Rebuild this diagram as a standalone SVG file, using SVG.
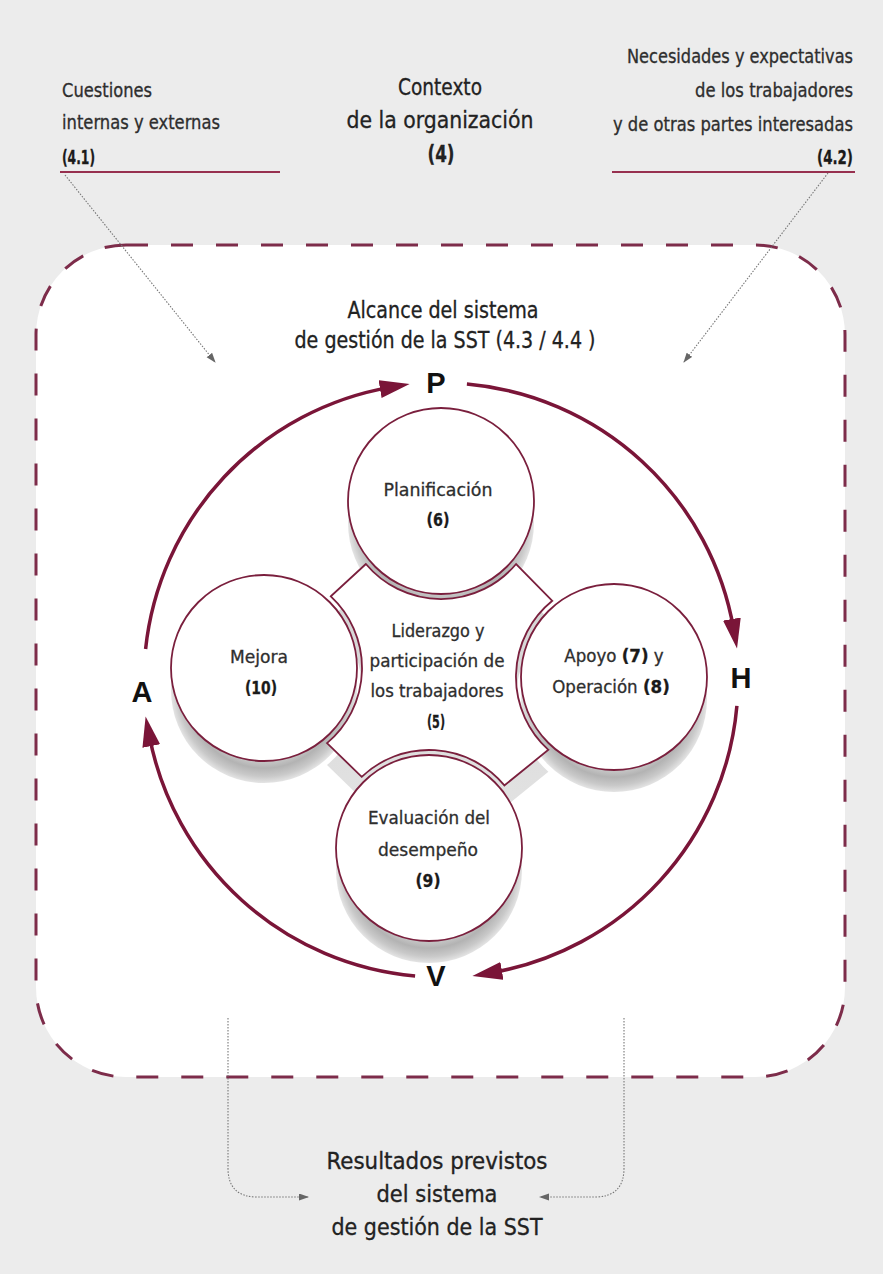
<svg xmlns="http://www.w3.org/2000/svg" width="883" height="1274" viewBox="0 0 883 1274">
  <style>
    .t { font-family: "Liberation Sans Narrow", "DejaVu Sans Condensed", "Liberation Sans", sans-serif; fill: #2e2e2e; stroke: #2e2e2e; stroke-width: 0.3; }
    .b { font-weight: bold; fill: #1a1a1a; stroke: #1a1a1a; }
    .lbl { font-size: 19px; }
    .ttl { font-size: 23px; fill: #222; stroke: #222; }
    .in { font-size: 18.5px; }
    .pdca { font-family: "Liberation Sans", Arial, sans-serif; font-weight: bold; font-size: 29px; fill: #111; text-anchor: middle; }
    .cyc { fill: none; stroke: #7a1538; stroke-width: 3.5; marker-end: url(#head); }
    .dot { fill: none; stroke: #777; stroke-width: 1.1; stroke-dasharray: 1.5 1.5; marker-end: url(#gray); }
    .face { fill: #fff; stroke: #7a1f3d; stroke-width: 1.8; }
    .rule { stroke: #97304f; stroke-width: 2; }
  </style>
  <defs>
    <marker id="head" markerUnits="userSpaceOnUse" markerWidth="32" markerHeight="20" refX="10" refY="9" orient="auto">
      <path d="M0,0 L30,9 L0,18 Z" fill="#7a1538"/>
    </marker>
    <marker id="gray" markerUnits="userSpaceOnUse" markerWidth="12" markerHeight="8" refX="9" refY="3.5" orient="auto">
      <path d="M0,0 L10,3.5 L0,7 Z" fill="#666"/>
    </marker>
    <radialGradient id="side" cx="0.5" cy="0.5" r="0.5">
      <stop offset="0" stop-color="#d6d6d6"/>
      <stop offset="0.76" stop-color="#c9c9c9"/>
      <stop offset="0.84" stop-color="#b3b3b3"/>
      <stop offset="0.93" stop-color="#c9c9c9"/>
      <stop offset="1" stop-color="#e4e4e4"/>
    </radialGradient>
    <linearGradient id="mid" x1="0" y1="0" x2="0" y2="1">
      <stop offset="0" stop-color="#d4d4d4"/>
      <stop offset="1" stop-color="#e2e2e2"/>
    </linearGradient>
  </defs>

  <!-- page and scope panel -->
  <rect x="0" y="0" width="883" height="1274" fill="#ececec"/>
  <rect x="36" y="245" width="809" height="832" rx="90" ry="90" fill="#fff" stroke="#7d2c4a" stroke-width="3" stroke-dasharray="22 23"/>

  <!-- context header -->
  <g id="cuestiones">
    <text class="t lbl" x="62" y="97" textLength="90" lengthAdjust="spacingAndGlyphs">Cuestiones</text>
    <text class="t lbl" x="62" y="129" textLength="158" lengthAdjust="spacingAndGlyphs">internas y externas</text>
    <text class="t lbl b" x="62" y="164" textLength="33" lengthAdjust="spacingAndGlyphs">(4.1)</text>
    <line class="rule" x1="60" y1="172" x2="280" y2="172"/>
  </g>
  <g id="contexto">
    <text class="t ttl" x="440" y="95" text-anchor="middle" textLength="84" lengthAdjust="spacingAndGlyphs">Contexto</text>
    <text class="t ttl" x="440" y="128" text-anchor="middle" textLength="187" lengthAdjust="spacingAndGlyphs">de la organización</text>
    <text class="t ttl b" x="441" y="162" text-anchor="middle" textLength="27" lengthAdjust="spacingAndGlyphs">(4)</text>
  </g>
  <g id="necesidades">
    <text class="t lbl" x="853" y="63" text-anchor="end" textLength="226" lengthAdjust="spacingAndGlyphs">Necesidades y expectativas</text>
    <text class="t lbl" x="853" y="97" text-anchor="end" textLength="158" lengthAdjust="spacingAndGlyphs">de los trabajadores</text>
    <text class="t lbl" x="853" y="131" text-anchor="end" textLength="240" lengthAdjust="spacingAndGlyphs">y de otras partes interesadas</text>
    <text class="t lbl b" x="853" y="164" text-anchor="end" textLength="36" lengthAdjust="spacingAndGlyphs">(4.2)</text>
    <line class="rule" x1="612" y1="172" x2="855" y2="172"/>
  </g>

  <g id="alcance">
    <text class="t ttl" x="443" y="318" text-anchor="middle" textLength="191" lengthAdjust="spacingAndGlyphs">Alcance del sistema</text>
    <text class="t ttl" x="445" y="348" text-anchor="middle" textLength="301" lengthAdjust="spacingAndGlyphs">de gestión de la SST (4.3 / 4.4 )</text>
  </g>

  <!-- extruded sides of the flower -->
  <g id="sides" transform="translate(0,22)">
    <path d="M365.9,564 L330.8,596.3 A98,98 0 0 1 327,743.1 L361.7,776.8 A98,98 0 0 1 504.4,785.4 L548.4,749.8 A98,98 0 0 1 552.3,600.8 L516.1,564 A98,98 0 0 1 365.9,564 Z" fill="url(#mid)"/>
    <circle cx="441" cy="501" r="93" fill="url(#side)"/>
    <circle cx="264" cy="668" r="93" fill="url(#side)"/>
    <circle cx="614" cy="677" r="93" fill="url(#side)"/>
    <circle cx="429" cy="848" r="93" fill="url(#side)"/>
  </g>

  <g id="liderazgo">
    <path class="face" stroke-width="1.6" d="M365.9,564 L330.8,596.3 A98,98 0 0 1 327,743.1 L361.7,776.8 A98,98 0 0 1 504.4,785.4 L548.4,749.8 A98,98 0 0 1 552.3,600.8 L516.1,564 A98,98 0 0 1 365.9,564 Z"/>
    <text class="t in" x="438" y="637" text-anchor="middle" textLength="93" lengthAdjust="spacingAndGlyphs">Liderazgo y</text>
    <text class="t in" x="437" y="667" text-anchor="middle" textLength="135" lengthAdjust="spacingAndGlyphs">participación de</text>
    <text class="t in" x="437" y="697" text-anchor="middle" textLength="133" lengthAdjust="spacingAndGlyphs">los trabajadores</text>
    <text class="t in b" x="436" y="728" text-anchor="middle" textLength="18" lengthAdjust="spacingAndGlyphs">(5)</text>
  </g>

  <g id="planificacion">
    <circle class="face" cx="441" cy="501" r="93"/>
    <text class="t in" x="438" y="496" text-anchor="middle" textLength="109" lengthAdjust="spacingAndGlyphs">Planificación</text>
    <text class="t in b" x="438" y="526" text-anchor="middle" textLength="23" lengthAdjust="spacingAndGlyphs">(6)</text>
  </g>
  <g id="mejora">
    <circle class="face" cx="264" cy="668" r="93"/>
    <text class="t in" x="259" y="663" text-anchor="middle" textLength="58" lengthAdjust="spacingAndGlyphs">Mejora</text>
    <text class="t in b" x="261" y="694" text-anchor="middle" textLength="32" lengthAdjust="spacingAndGlyphs">(10)</text>
  </g>
  <g id="apoyo">
    <circle class="face" cx="614" cy="677" r="93"/>
    <text class="t in" x="614" y="662" text-anchor="middle">Apoyo <tspan class="b">(7)</tspan> y</text>
    <text class="t in" x="611" y="693" text-anchor="middle">Operación <tspan class="b">(8)</tspan></text>
  </g>
  <g id="evaluacion">
    <circle class="face" cx="429" cy="848" r="93"/>
    <text class="t in" x="429" y="824" text-anchor="middle" textLength="122" lengthAdjust="spacingAndGlyphs">Evaluación del</text>
    <text class="t in" x="428" y="856" text-anchor="middle" textLength="100" lengthAdjust="spacingAndGlyphs">desempeño</text>
    <text class="t in b" x="428" y="887" text-anchor="middle" textLength="25" lengthAdjust="spacingAndGlyphs">(9)</text>
  </g>

  <!-- PHVA cycle letters -->
  <g id="phva">
    <text class="pdca" x="436" y="393">P</text>
    <text class="pdca" x="741" y="688">H</text>
    <text class="pdca" x="436" y="986">V</text>
    <text class="pdca" x="142" y="702">A</text>
  </g>

  <g id="connectors">
    <!-- cycle arcs, centre (441,680) r 297 -->
    <path class="cyc" d="M145.6,649 A297,297 0 0 1 389.9,387.4"/>
    <path class="cyc" d="M466.9,384.1 A297,297 0 0 1 733.6,628.9"/>
    <path class="cyc" d="M736.9,705.9 A297,297 0 0 1 492.1,972.6"/>
    <path class="cyc" d="M415.1,975.9 A297,297 0 0 1 149.4,736.2"/>
    <!-- inputs into the scope -->
    <path class="dot" d="M65,175 L215,362"/>
    <path class="dot" d="M828,173 L684,362"/>
    <!-- outputs to intended results -->
    <path class="dot" d="M228,1018 V1168 Q228,1197 257,1197 H308"/>
    <path class="dot" d="M624,1018 V1168 Q624,1197 595,1197 H540"/>
  </g>

  <g id="resultados">
    <text class="t ttl" x="437" y="1169" text-anchor="middle" textLength="221" lengthAdjust="spacingAndGlyphs">Resultados previstos</text>
    <text class="t ttl" x="437" y="1202" text-anchor="middle" textLength="121" lengthAdjust="spacingAndGlyphs">del sistema</text>
    <text class="t ttl" x="437" y="1235" text-anchor="middle" textLength="211" lengthAdjust="spacingAndGlyphs">de gestión de la SST</text>
  </g>
</svg>
